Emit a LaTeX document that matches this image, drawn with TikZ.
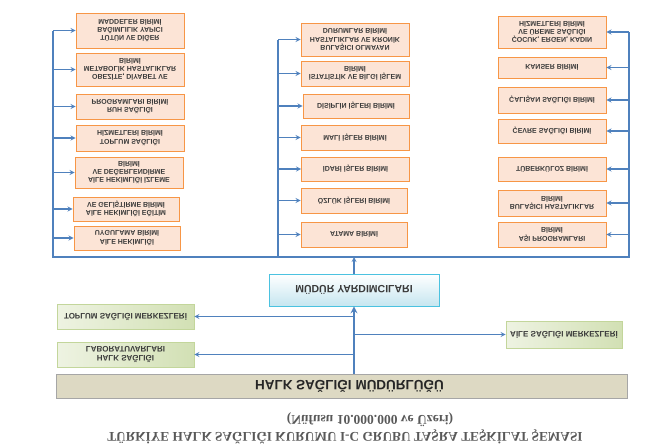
\documentclass[tikz,border=0pt]{standalone}
\usepackage{fontspec}
\setmainfont{Liberation Sans}
\newfontfamily\titlefont{Liberation Serif}
\definecolor{linkblue}{HTML}{4F81BD}
\definecolor{unitborder}{HTML}{F79646}
\definecolor{unitfill}{HTML}{FCE4D6}
\definecolor{greenlight}{HTML}{EEF3E2}
\definecolor{greendark}{HTML}{D2E0B4}
\definecolor{greenborder}{HTML}{C3D69B}
\definecolor{bluedark}{HTML}{C6E6F0}
\definecolor{blueborder}{HTML}{4BC2E0}
\definecolor{tanfill}{HTML}{DDD9C3}
\definecolor{textgray}{HTML}{3A3A3A}
\begin{document}
\begin{tikzpicture}[x=1pt,y=1pt,yscale=-1,transform shape,>=stealth,
    unit/.style={draw=unitborder, fill=unitfill, line width=0.9pt, align=center,
        font=\bfseries\fontsize{7}{8.3}\selectfont, text=textgray,
        inner sep=1pt, minimum width=108pt},
    centre/.style={draw=greenborder, left color=greenlight, right color=greendark,
        line width=0.8pt, align=center, font=\bfseries\fontsize{8}{9}\selectfont,
        text=textgray, inner sep=1pt, minimum height=25pt},
    link/.style={draw=linkblue, line width=1.2pt},
    bus/.style={draw=linkblue, line width=1.6pt}]

    \useasboundingbox (0,0) rectangle (658,445);

    % left column
    \node[unit, minimum height=35pt] (tutun) at (130,30.5)
        {TÜTÜN VE DİĞER\\BAĞIMLILIK YAPICI\\MADDELER BİRİMİ};
    \node[unit, minimum height=33pt] (obezite) at (130,69.5)
        {OBEZİTE, DİYABET VE\\METABOLİK HASTALIKLAR\\BİRİMİ};
    \node[unit, minimum height=25pt] (ruh) at (130,106.5)
        {RUH SAĞLIĞI\\PROGRAMLARI BİRİMİ};
    \node[unit, minimum height=26pt] (toplumhiz) at (130,138)
        {TOPLUM SAĞLIĞI\\HİZMETLERİ BİRİMİ};
    \node[unit, minimum height=31pt] (izleme) at (129,172.5)
        {AİLE HEKİMLİĞİ İZLEME\\VE DEĞERLENDİRME\\BİRİMİ};
    \node[unit, minimum height=24pt, minimum width=106pt] (egitim) at (126,209)
        {AİLE HEKİMLİĞİ EĞİTİM\\VE GELİŞTİRME BİRİMİ};
    \node[unit, minimum height=24pt, minimum width=106pt] (uygulama) at (127,238)
        {AİLE HEKİMLİĞİ\\UYGULAMA BİRİMİ};

    % middle column
    \node[unit, minimum height=33pt] (kronik) at (355,39.5)
        {BULAŞICI OLMAYAN\\HASTALIKLAR VE KRONİK\\DURUMLAR BİRİMİ};
    \node[unit, minimum height=25pt] (istatistik) at (355,73.5)
        {İSTATİSTİK VE BİLGİ İŞLEM\\BİRİMİ};
    \node[unit, minimum height=24pt, minimum width=106pt] (disiplin) at (356,106)
        {DİSİPLİN İŞLERİ BİRİMİ};
    \node[unit, minimum height=25pt] (mali) at (355,137.5) {MALİ İŞLER BİRİMİ};
    \node[unit, minimum height=24pt] (idari) at (355.5,169) {İDARİ İŞLER BİRİMİ};
    \node[unit, minimum height=25pt, minimum width=106pt] (ozluk) at (354,200.5)
        {ÖZLÜK İŞLERİ BİRİMİ};
    \node[unit, minimum height=25pt, minimum width=106pt] (atama) at (354,234.5)
        {ATAMA BİRİMİ};

    % right column
    \node[unit, minimum height=32pt] (cocuk) at (552,32)
        {ÇOCUK, ERGEN, KADIN\\VE ÜREME SAĞLIĞI\\HİZMETLERİ BİRİMİ};
    \node[unit, minimum height=21pt] (kanser) at (552,67.5) {KANSER BİRİMİ};
    \node[unit, minimum height=26pt] (calisan) at (552,100) {ÇALIŞAN SAĞLIĞI BİRİMİ};
    \node[unit, minimum height=24pt] (cevre) at (552,131) {ÇEVRE SAĞLIĞI BİRİMİ};
    \node[unit, minimum height=24pt] (tuberkuloz) at (552,169) {TÜBERKÜLOZ BİRİMİ};
    \node[unit, minimum height=26pt] (bulasici) at (552,203)
        {BULAŞICI HASTALIKLAR\\BİRİMİ};
    \node[unit, minimum height=25pt] (asi) at (552,234.5)
        {AŞI PROGRAMLARI\\BİRİMİ};

    % lower part
    \node[draw=blueborder, top color=white, bottom color=bluedark, line width=0.9pt,
        minimum width=170pt, minimum height=32pt,
        font=\bfseries\fontsize{10.5}{12}\selectfont, text=textgray]
        (yardimci) at (354,290) {MÜDÜR YARDIMCILARI};
    \node[centre, minimum width=137pt] (tsm) at (125.5,316.5)
        {TOPLUM SAĞLIĞI MERKEZLERİ};
    \node[centre, minimum width=137pt] (lab) at (125.5,354.5)
        {HALK SAĞLIĞI\\LABORATUVARLARI};
    \node[centre, minimum width=116pt, minimum height=27pt] (asm) at (564,334.5)
        {AİLE SAĞLIĞI MERKEZLERİ};
    \node[draw=gray!70, fill=tanfill, line width=1pt,
        minimum width=571pt, minimum height=24pt,
        font=\bfseries\fontsize{13.5}{15}\selectfont, text=black!85]
        (mudurluk) at (341.5,386) {\hspace*{16pt}HALK SAĞLIĞI MÜDÜRLÜĞÜ};

    \node[font=\titlefont\bfseries\fontsize{13.5}{15}\selectfont, text=black!65]
        (altbaslik) at (370,420) {(Nüfusu 10.000.000 ve Üzeri)};
    \node[font=\titlefont\bfseries\fontsize{13.3}{15}\selectfont, text=black!65]
        (baslik) at (345,436.5)
        {TÜRKİYE HALK SAĞLIĞI KURUMU I-C GRUBU TAŞRA TEŞKİLAT ŞEMASI};

    % buses
    \coordinate (lbus) at (53,257);
    \coordinate (mbus) at (278,257);
    \coordinate (rbus) at (629,257);

    \draw[bus] (lbus |- tutun.west) -- (lbus) -- (rbus) -- (rbus |- cocuk.east);
    \draw[bus] (mbus |- kronik.west) -- (mbus);

    \foreach \n in {tutun,obezite,ruh,toplumhiz,izleme,egitim,uygulama}{
        \draw[link,->] (lbus |- \n.west) -- (\n.west);
    }
    \foreach \n in {kronik,istatistik,disiplin,mali,idari,ozluk,atama}{
        \draw[link,->] (mbus |- \n.west) -- (\n.west);
    }
    \foreach \n in {cocuk,kanser,calisan,cevre,tuberkuloz,bulasici,asi}{
        \draw[link,->] (rbus |- \n.east) -- (\n.east);
    }

    \draw[link,->] (yardimci.south) -- (yardimci.south |- lbus);
    \draw[bus,line width=2pt,->] (mudurluk.south -| yardimci.center) -- (yardimci.north);
    \draw[link,->] (tsm.east -| yardimci.center) -- (tsm.east);
    \draw[link,->] (lab.east -| yardimci.center) -- (lab.east);
    \draw[link,->] (asm.west -| yardimci.center) -- (asm.west);

\end{tikzpicture}
\end{document}
